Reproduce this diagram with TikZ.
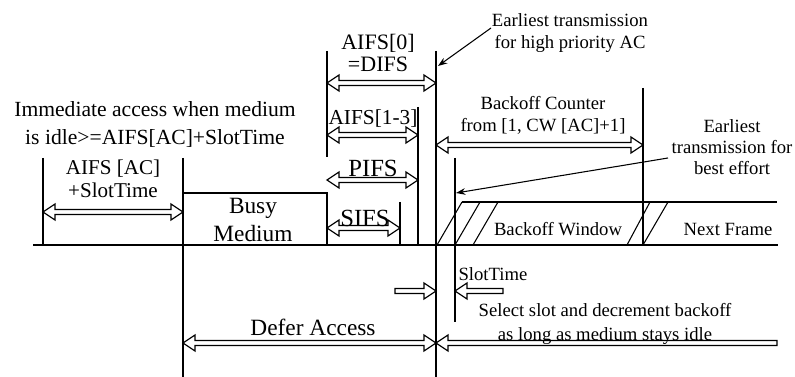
\documentclass[tikz,border=0pt]{standalone}
\usepackage{fontspec}
\setmainfont{Liberation Serif}
\usetikzlibrary{calc,arrows.meta}
\newcommand{\fsz}[2]{\fontsize{#1}{#2}\selectfont}
\tikzset{
  thin line/.style={line width=0.8pt},
  base line/.style={line width=2.2pt},
  hol/.style={draw, fill=white, line width=0.9pt, line join=miter},
  harrD/.style={hol, to path={-- ++(12,-8) -- ++(0,5.5) -- ($(\tikztotarget)+(-12,-2.5)$) -- ++(0,-5.5) -- (\tikztotarget) -- ++(-12,8) -- ++(0,-5.5) -- ($(\tikztostart)+(12,2.5)$) -- ++(0,5.5) -- cycle}},
  harrS/.style={hol, to path={-- ++(12,-8) -- ++(0,5.5) -- ($(\tikztotarget)+(0,-2.5)$) -- ++(0,5) -- ($(\tikztostart)+(12,2.5)$) -- ++(0,5.5) -- cycle}},
  harrE/.style={hol, to path={-- ++(0,-2.5) -- ($(\tikztotarget)+(-12,-2.5)$) -- ++(0,-5.5) -- (\tikztotarget) -- ++(-12,8) -- ++(0,-5.5) -- ($(\tikztostart)+(0,2.5)$) -- cycle}},
  lbl/.style={inner sep=0pt, align=center},
  ptr/.style={line width=0.8pt, -{Stealth[length=7pt,width=5pt]}}
}
\begin{document}
\begin{tikzpicture}[x=0.75pt,y=-0.75pt]
\useasboundingbox (0,0) rectangle (795,377);
% coordinates
\coordinate (bl) at (33,245);  \coordinate (br) at (778,245);
\coordinate (a1t) at (43,158);  \coordinate (a1b) at (43,245);
\coordinate (b1t) at (183,158); \coordinate (b1b) at (183,377);
\coordinate (bxa) at (183,193); \coordinate (bxb) at (327,193); \coordinate (bxc) at (327,245);
\coordinate (c1t) at (327,51);  \coordinate (c1b) at (327,157);
\coordinate (d1t) at (436,51);  \coordinate (d1b) at (436,377);
\coordinate (e1t) at (418,107); \coordinate (e1b) at (418,245);
\coordinate (f1t) at (400,202); \coordinate (f1b) at (400,245);
\coordinate (g1t) at (643,88);  \coordinate (g1b) at (643,245);
\coordinate (h1t) at (455,158); \coordinate (h1b) at (455,322);
\coordinate (wt1) at (462,202); \coordinate (wt2) at (777,202);
% lines
\draw[base line] (bl) -- (br);
\draw[thin line] (a1t) -- (a1b);
\draw[thin line] (b1t) -- (b1b);
\draw[thin line] (bxa) -- (bxb) -- (bxc);
\draw[thin line] (c1t) -- (c1b);
\draw[thin line] (d1t) -- (d1b);
\draw[thin line] (e1t) -- (e1b);
\draw[thin line] (f1t) -- (f1b);
\draw[thin line] (g1t) -- (g1b);
\draw[thin line] (h1t) -- (h1b);
\draw[thin line] (wt1) -- (wt2);
% slashes
\foreach \xa/\xb [count=\i] in {437/462,455/480,473/498,627/650,643/668}{
  \coordinate (sa\i) at (\xa,245); \coordinate (sb\i) at (\xb,202);
  \draw[thin line] (sa\i) -- (sb\i);
}
% hollow arrows
\coordinate (p1) at (43,212);  \coordinate (p2) at (183,212);
\draw[harrD] (p1) to (p2);
\coordinate (q1) at (327,83);  \coordinate (q2) at (436,83);
\draw[harrD] (q1) to (q2);
\coordinate (r1) at (327,135); \coordinate (r2) at (418,135);
\draw[harrD] (r1) to (r2);
\coordinate (s1) at (327,180); \coordinate (s2) at (418,180);
\draw[harrD] (s1) to (s2);
\coordinate (t1) at (327,228); \coordinate (t2) at (400,228);
\draw[harrD] (t1) to (t2);
\coordinate (u1) at (436,145); \coordinate (u2) at (643,145);
\draw[harrD] (u1) to (u2);
\coordinate (v1) at (395,291); \coordinate (v2) at (436,291);
\draw[harrE] (v1) to (v2);
\coordinate (w1) at (455,291); \coordinate (w2) at (503,291);
\draw[harrS] (w1) to (w2);
\coordinate (x1) at (183,343); \coordinate (x2) at (436,343);
\draw[harrD] (x1) to (x2);
\coordinate (y1) at (436,343); \coordinate (y2) at (777,343);
\draw[harrS] (y1) to (y2);
% labels
\node[lbl, font=\fsz{16.2}{21}] (imm) at (155,124) {Immediate access when medium\\is idle>=AIFS[AC]+SlotTime};
\node[lbl, font=\fsz{15.8}{17}] (aac) at (113,179) {AIFS [AC]\\+SlotTime};
\node[lbl, font=\fsz{17.5}{21}] (busy) at (253,220) {Busy\\Medium};
\node[lbl, font=\fsz{16.5}{16}] (difs) at (378,53) {AIFS[0]\\=DIFS};
\node[lbl, font=\fsz{16}{18}] (a13) at (373,119) {AIFS[1-3]};
\node[lbl, font=\fsz{18.5}{20}] (pifs) at (373,168) {PIFS};
\node[lbl, font=\fsz{18.5}{20}] (sifs) at (365,218) {SIFS};
\node[lbl, font=\fsz{14}{16}] (ehp) at (570,33) {Earliest transmission\\for high priority AC};
\node[lbl, font=\fsz{14}{16.5}] (boc) at (543,115) {Backoff Counter\\from [1, CW [AC]+1]};
\node[lbl, font=\fsz{14}{16}] (ebe) at (732,147) {Earliest\\transmission for\\best effort};
\node[lbl, font=\fsz{14}{16}] (bow) at (558,229) {Backoff Window};
\node[lbl, font=\fsz{14}{16}] (nxf) at (728,229) {Next Frame};
\node[lbl, font=\fsz{14}{16}] (slt) at (493,274) {SlotTime};
\node[lbl, font=\fsz{14}{18}] (sel) at (605,324) {Select slot and decrement backoff\\as long as medium stays idle};
\node[lbl, font=\fsz{17.5}{20}] (dfa) at (313,327) {Defer Access};
% pointer arrows
\coordinate (k1) at (491,28);  \coordinate (k2) at (438,66);
\draw[ptr] (k1) -- (k2);
\coordinate (m1) at (668,158); \coordinate (m2) at (456,193);
\draw[ptr] (m1) -- (m2);
\end{tikzpicture}
\end{document}
